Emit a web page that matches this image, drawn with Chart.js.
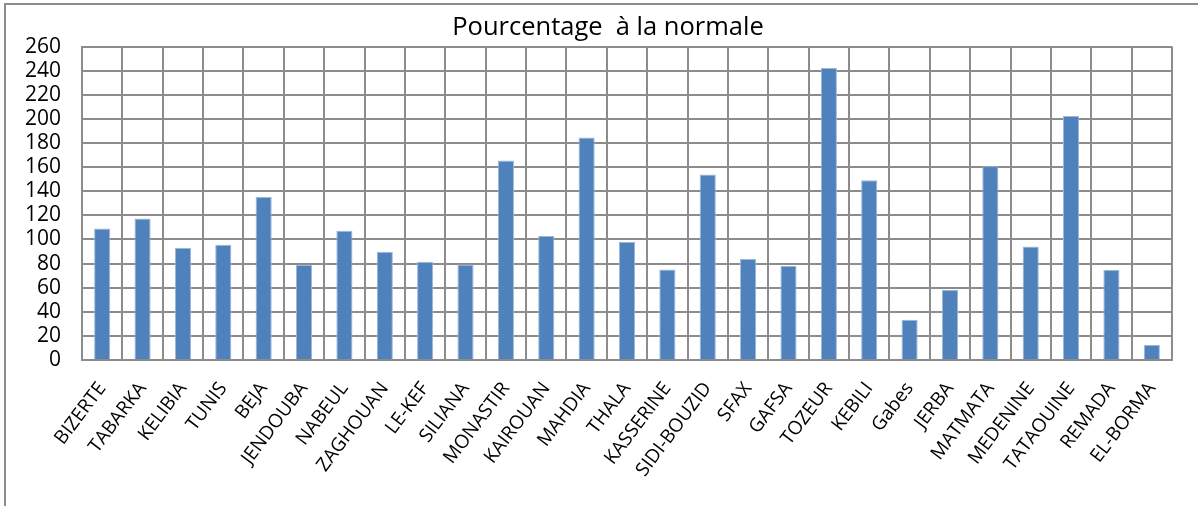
<!DOCTYPE html>
<html><head><meta charset="utf-8">
<script src="https://cdn.jsdelivr.net/npm/chart.js@4.4.1/dist/chart.umd.min.js"></script>
<style>html,body{margin:0;padding:0;background:#fff}#wrap{width:1198px;height:506px}</style>
</head><body><div id="wrap"><canvas id="c" width="1198" height="506"></canvas></div>
<script>
const categories = ["BIZERTE","TABARKA","KELIBIA","TUNIS","BEJA","JENDOUBA","NABEUL","ZAGHOUAN","LE-KEF","SILIANA","MONASTIR","KAIROUAN","MAHDIA","THALA","KASSERINE","SIDI-BOUZID","SFAX","GAFSA","TOZEUR","KEBILI","Gabes","JERBA","MATMATA","MEDENINE","TATAOUINE","REMADA","EL-BORMA"];
const values = [109,117.3,93.2,95.6,135.3,79,107.3,89.8,81.5,79.3,165.5,102.8,184.6,97.8,75.1,153.9,83.7,77.9,242.3,149.1,33.3,58.2,160.8,94.2,202.4,74.9,12.7];
const yTicks = [0,20,40,60,80,100,120,140,160,180,200,220,240,260];
const titleText = "Pourcentage  à la normale";

const FONT = "'Open Sans', sans-serif";
const frame = {
  id:'frame',
  afterLayout(chart){ if(chart.titleBlock){ chart.titleBlock.left = 44; } },
  beforeDraw(chart){
    const ctx = chart.ctx;
    ctx.save();
    ctx.fillStyle='#fff';ctx.fillRect(0,0,chart.width,chart.height);
    ctx.strokeStyle='#8c8c8c';ctx.lineWidth=2;
    ctx.beginPath();ctx.moveTo(5,506);ctx.lineTo(5,4);ctx.lineTo(1198,4);ctx.stroke();
    ctx.restore();
  }
};
new Chart(document.getElementById('c'),{
  type:'bar',
  data:{labels:categories,datasets:[{data:values,backgroundColor:'#4F81BD',borderColor:'#9DB7D9',borderWidth:1,barPercentage:0.8,categoryPercentage:0.5}]},
  options:{
    responsive:false,animation:false,
    layout:{padding:{top:12,left:5,right:26,bottom:0}},
    plugins:{legend:{display:false},tooltip:{enabled:false},
      title:{display:true,text:titleText,color:'#000',font:{family:FONT,size:25.5,weight:'normal'},padding:{top:0,bottom:4}}},
    scales:{
      y:{min:0,max:260,afterBuildTicks(s){s.ticks=yTicks.map(v=>({value:v}));},
        afterFit(s){s.width=77;},
        grid:{color:'#8c8c8c',lineWidth:2,drawTicks:false},border:{color:'#8c8c8c',width:2},
        ticks:{color:'#000',font:{family:FONT,size:21},padding:21,autoSkip:false,stepSize:20}},
      x:{afterFit(s){s.height=146;},
        grid:{color:'#8c8c8c',lineWidth:2,drawTicks:false,offset:true},border:{color:'#8c8c8c',width:2},
        ticks:{color:'#000',font:{family:FONT,size:19},minRotation:53,maxRotation:53,padding:18,autoSkip:false}}
    }
  },
  plugins:[frame]
});
</script></body></html>
